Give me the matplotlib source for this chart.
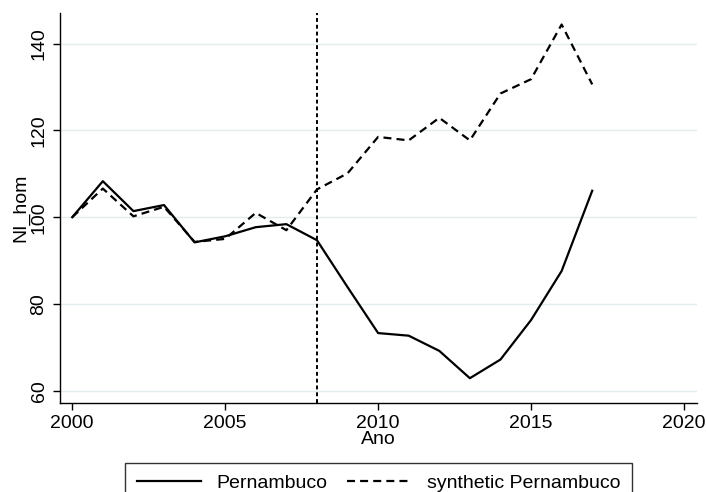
import numpy as np
import matplotlib.pyplot as plt

plt.rcParams['font.family'] = ['Liberation Sans', 'DejaVu Sans']

anos = np.arange(2000, 2018)
pernambuco = [100.0, 108.3, 101.4, 102.8, 94.2, 95.6, 97.7, 98.4, 94.7,
              83.9, 73.3, 72.7, 69.2, 62.9, 67.2, 76.3, 87.6, 106.1]
sintetico = [100.0, 106.6, 100.2, 102.4, 94.3, 95.0, 101.0, 97.0, 106.4,
             110.1, 118.5, 117.7, 122.9, 117.7, 128.5, 131.8, 144.4, 130.6]
ano_tratamento = 2008
xticks = [2000, 2005, 2010, 2015, 2020]
yticks = [60, 80, 100, 120, 140]

fig = plt.figure(figsize=(7.06, 4.92), dpi=100)
ax = fig.add_axes([0.085, 0.181, 0.902, 0.793])

# grade horizontal clara
for y in yticks:
    ax.axhline(y, color='#e3ecee', lw=1.0, zorder=0)

l1, = ax.plot(anos, pernambuco, color='black', lw=1.6, label='Pernambuco')
l2, = ax.plot(anos, sintetico, color='black', lw=1.6,
              linestyle=(0, (3.6, 2.3)), label='synthetic Pernambuco')
ax.axvline(ano_tratamento, color='black', lw=1.4, linestyle=(0, (2.0, 1.5)))

ax.set_xlim(1999.6, 2020.42)
ax.set_ylim(57.2, 147.1)
ax.set_xticks(xticks)
ax.set_yticks(yticks)
ax.tick_params(axis='both', direction='out', length=5, width=1.0,
               labelsize=14, color='black', pad=4)
for lab in ax.get_yticklabels():
    lab.set_rotation(90)
    lab.set_va('center')

ax.spines['top'].set_visible(False)
ax.spines['right'].set_visible(False)
ax.spines['left'].set_linewidth(1.0)
ax.spines['bottom'].set_linewidth(1.0)

ax.set_xlabel('Ano', fontsize=14, labelpad=-1)
ax.set_ylabel('NI_hom', fontsize=14, labelpad=1)

leg = fig.legend(handles=[l1, l2], loc='upper center',
                 bbox_to_anchor=(0.536, 0.059), borderaxespad=0, ncol=2,
                 fontsize=14, frameon=True, fancybox=False, edgecolor='black',
                 handlelength=3.3, columnspacing=1.0, borderpad=0.6)
leg.get_frame().set_linewidth(1.0)

fig.savefig('out.png', dpi=100)
